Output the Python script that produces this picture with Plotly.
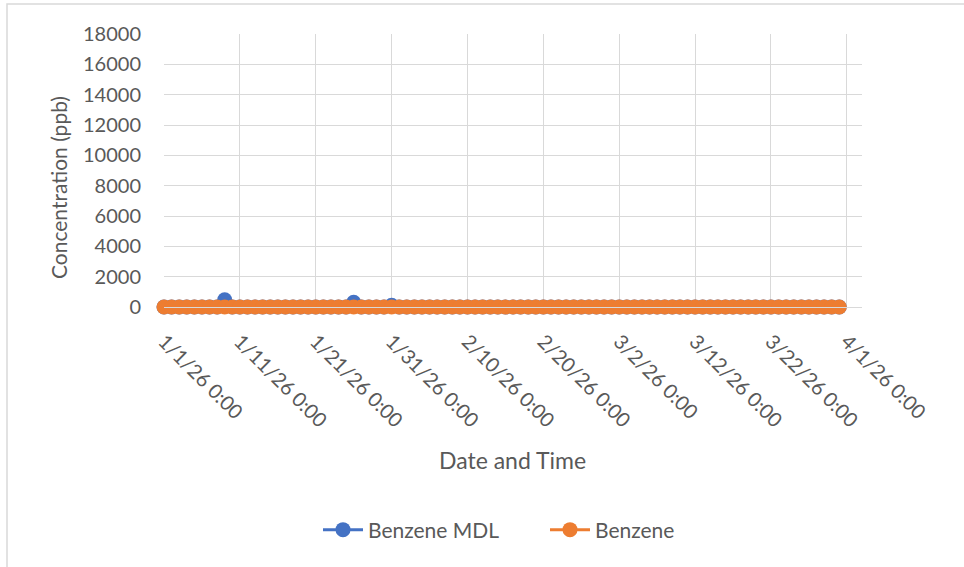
import plotly.graph_objects as go
import pandas as pd

# Daily samples, 1/1/26 through 3/31/26
dates = pd.date_range("2026-01-01", "2026-03-31", freq="D")

benzene_mdl = [
    0, 0, 0, 0, 0, 0, 0, 0, 480, 0,
    0, 0, 0, 0, 0, 0, 0, 0, 0, 0,
    0, 0, 0, 0, 0, 310, 0, 0, 0, 0,
    110, 0, 0, 0, 0, 0, 0, 0, 0, 0,
    0, 0, 0, 0, 0, 0, 0, 0, 0, 0,
    0, 0, 0, 0, 0, 0, 0, 0, 0, 0,
    0, 0, 0, 0, 0, 0, 0, 0, 0, 0,
    0, 0, 0, 0, 0, 0, 0, 0, 0, 0,
    0, 0, 0, 0, 0, 0, 0, 0, 0, 0,
]
benzene = [
    0, 0, 0, 0, 0, 0, 0, 0, 0, 0,
    0, 0, 0, 0, 0, 0, 0, 0, 0, 0,
    0, 0, 0, 0, 0, 0, 0, 0, 0, 0,
    0, 0, 0, 0, 0, 0, 0, 0, 0, 0,
    0, 0, 0, 0, 0, 0, 0, 0, 0, 0,
    0, 0, 0, 0, 0, 0, 0, 0, 0, 0,
    0, 0, 0, 0, 0, 0, 0, 0, 0, 0,
    0, 0, 0, 0, 0, 0, 0, 0, 0, 0,
    0, 0, 0, 0, 0, 0, 0, 0, 0, 0,
]

x_tick_vals = ["2026-01-01", "2026-01-11", "2026-01-21", "2026-01-31", "2026-02-10",
               "2026-02-20", "2026-03-02", "2026-03-12", "2026-03-22", "2026-04-01"]
x_tick_text = ["1/1/26 0:00", "1/11/26 0:00", "1/21/26 0:00", "1/31/26 0:00", "2/10/26 0:00",
               "2/20/26 0:00", "3/2/26 0:00", "3/12/26 0:00", "3/22/26 0:00", "4/1/26 0:00"]
y_tick_vals = [0, 2000, 4000, 6000, 8000, 10000, 12000, 14000, 16000, 18000]
y_tick_text = ["0", "2000", "4000", "6000", "8000", "10000", "12000", "14000", "16000", "18000"]

FONT = "Lato, 'Open Sans', sans-serif"
GREY = "#595959"
GRID = "#D9D9D9"

fig = go.Figure()
fig.add_trace(go.Scatter(
    x=dates, y=benzene_mdl, name="Benzene MDL", mode="lines+markers",
    line=dict(color="#4472C4", width=3),
    marker=dict(color="#4472C4", size=15),
    cliponaxis=False,
))
fig.add_trace(go.Scatter(
    x=dates, y=benzene, name="Benzene", mode="lines+markers",
    line=dict(color="#ED7D31", width=3),
    marker=dict(color="#ED7D31", size=15),
    cliponaxis=False,
))

W, H = 964, 567
L, R, T, B = 164, 102, 34, 260
pw, ph = W - L - R, H - T - B

def px_to_paper(xp, yp):
    return (xp - L) / pw, (H - B - yp) / ph

x0, y0 = px_to_paper(7, 4)
x1, y1 = px_to_paper(975, 580)

fig.update_layout(
    width=W, height=H,
    margin=dict(l=L, r=R, t=T, b=B, autoexpand=False),
    paper_bgcolor="white", plot_bgcolor="white",
    font=dict(family=FONT, color=GREY, size=20),
    showlegend=True,
    legend=dict(orientation="h", x=px_to_paper(318, 0)[0], xanchor="left",
                y=px_to_paper(0, 530)[1], yanchor="middle",
                font=dict(size=21, color=GREY), itemwidth=40, tracegroupgap=0,
                entrywidth=172, entrywidthmode="pixels"),
    xaxis=dict(
        type="date",
        range=["2026-01-01", "2026-04-03"],
        tickvals=x_tick_vals, ticktext=x_tick_text,
        tickangle=45, tickfont=dict(size=20, color=GREY),
        showgrid=True, gridcolor=GRID, gridwidth=1,
        showline=True, linecolor=GRID, linewidth=1,
        zeroline=False, ticks="", automargin=False, ticklabelstandoff=14,
    ),
    yaxis=dict(
        range=[0, 18000], tickvals=y_tick_vals, ticktext=y_tick_text,
        tickfont=dict(size=20, color=GREY),
        showgrid=True, gridcolor=GRID, gridwidth=1,
        showline=False, zeroline=False, ticks="", ticklabelstandoff=22,
        automargin=False,
    ),
    annotations=[
        dict(text="Concentration (ppb)", xref="paper", yref="paper",
             x=px_to_paper(58, 0)[0], y=px_to_paper(0, 188)[1],
             showarrow=False, textangle=-90, font=dict(size=21, color=GREY),
             xanchor="center", yanchor="middle"),
        dict(text="Date and Time", xref="paper", yref="paper",
             x=px_to_paper(512, 0)[0], y=px_to_paper(0, 460)[1],
             showarrow=False, font=dict(size=23, color=GREY),
             xanchor="center", yanchor="middle"),
    ],
    shapes=[dict(type="rect", xref="paper", yref="paper",
                 x0=x0, y0=y1, x1=x1, y1=y0,
                 line=dict(color=GRID, width=1.5), layer="below")],
)

fig.write_html("out.html", config={"displayModeBar": False},
               post_script="document.body.style.margin='0';")
